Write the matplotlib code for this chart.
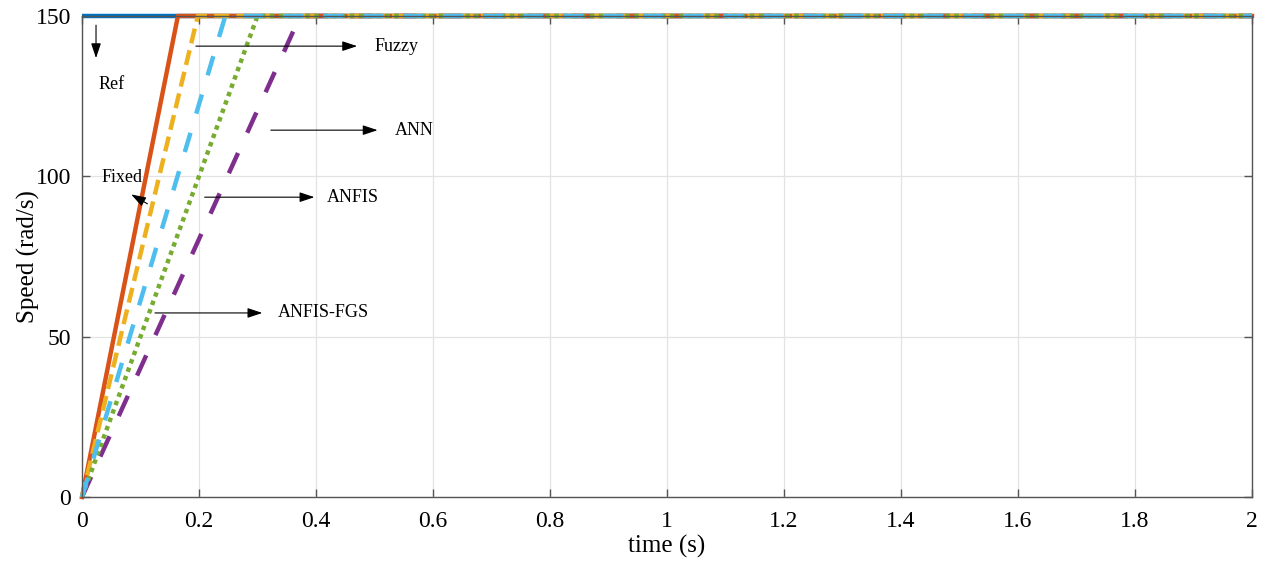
import matplotlib
matplotlib.use('Agg')
import matplotlib.pyplot as plt

# step response data: (time, speed) breakpoints per controller
t_end = 2.0
ref_t = [0.0, t_end]
ref_w = [150, 150]
fixed_t = [0.0, 0.164, t_end]
fixed_w = [0, 150, 150]
fuzzy_t = [0.0, 0.198, t_end]
fuzzy_w = [0, 150, 150]
ann_t = [0.0, 0.373, t_end]
ann_w = [0, 150, 150]
anfis_t = [0.0, 0.30, t_end]
anfis_w = [0, 150, 150]
fgs_t = [0.0, 0.245, t_end]
fgs_w = [0, 150, 150]

x_ticks = [0, 0.2, 0.4, 0.6, 0.8, 1, 1.2, 1.4, 1.6, 1.8, 2]
x_labels = ['0', '0.2', '0.4', '0.6', '0.8', '1', '1.2', '1.4', '1.6', '1.8', '2']
y_ticks = [0, 50, 100, 150]

plt.rcParams['font.family'] = ['Liberation Serif', 'DejaVu Serif']

fig = plt.figure(figsize=(12.69, 5.69), dpi=100)
ax = fig.add_axes([0.0646, 0.1265, 0.922, 0.8454])

lw = 3.2
ax.plot(ref_t, ref_w, color='#0072BD', lw=lw, solid_capstyle='butt', clip_on=False)
ax.plot(ann_t, ann_w, color='#7E2F8E', lw=lw, dashes=(5, 5), clip_on=False)
ax.plot(fixed_t, fixed_w, color='#D95319', lw=lw, clip_on=False)
ax.plot(fuzzy_t, fuzzy_w, color='#EDB120', lw=lw, dashes=(3.4, 1.6), clip_on=False)
ax.plot(anfis_t, anfis_w, color='#77AC30', lw=lw, dashes=(1, 1), clip_on=False)
ax.plot(fgs_t, fgs_w, color='#4DBEEE', lw=lw, dashes=(4.5, 4.5), clip_on=False)

ax.set_xlim(0, 2)
ax.set_ylim(0, 150)
ax.set_xticks(x_ticks)
ax.set_xticklabels(x_labels)
ax.set_yticks(y_ticks)
ax.grid(True, color='#e3e3e3', lw=0.9)
ax.tick_params(direction='in', length=6, labelsize=17, top=True, right=True,
               color='#555555', width=1)
ax.tick_params(axis='x', pad=10)
ax.tick_params(axis='y', pad=8)
for s in ax.spines.values():
    s.set_color('#555555')
    s.set_linewidth(1)
ax.set_xlabel('time (s)', fontsize=18, labelpad=2)
ax.set_ylabel('Speed (rad/s)', fontsize=18, labelpad=-3)

arrow = dict(arrowstyle='-|>,head_length=0.9,head_width=0.3', color='black', lw=0.8)
ax.annotate('', xy=(0.024, 136), xytext=(0.024, 148), arrowprops=arrow)
ax.text(0.029, 128.5, 'Ref', fontsize=13, va='center')
ax.annotate('', xy=(0.475, 140.6), xytext=(0.19, 140.6), arrowprops=arrow)
ax.text(0.50, 140.6, 'Fuzzy', fontsize=13, va='center')
ax.annotate('', xy=(0.51, 114.4), xytext=(0.318, 114.4), arrowprops=arrow)
ax.text(0.535, 114.4, 'ANN', fontsize=13, va='center')
ax.annotate('', xy=(0.402, 93.5), xytext=(0.205, 93.5), arrowprops=arrow)
ax.text(0.419, 93.5, 'ANFIS', fontsize=13, va='center')
ax.annotate('', xy=(0.313, 57.4), xytext=(0.12, 57.4), arrowprops=arrow)
ax.text(0.335, 57.4, 'ANFIS-FGS', fontsize=13, va='center')
ax.annotate('', xy=(0.08, 94.8), xytext=(0.116, 91), arrowprops=arrow)
ax.text(0.034, 99.5, 'Fixed', fontsize=13, va='center')

fig.savefig('out.png', dpi=100)
